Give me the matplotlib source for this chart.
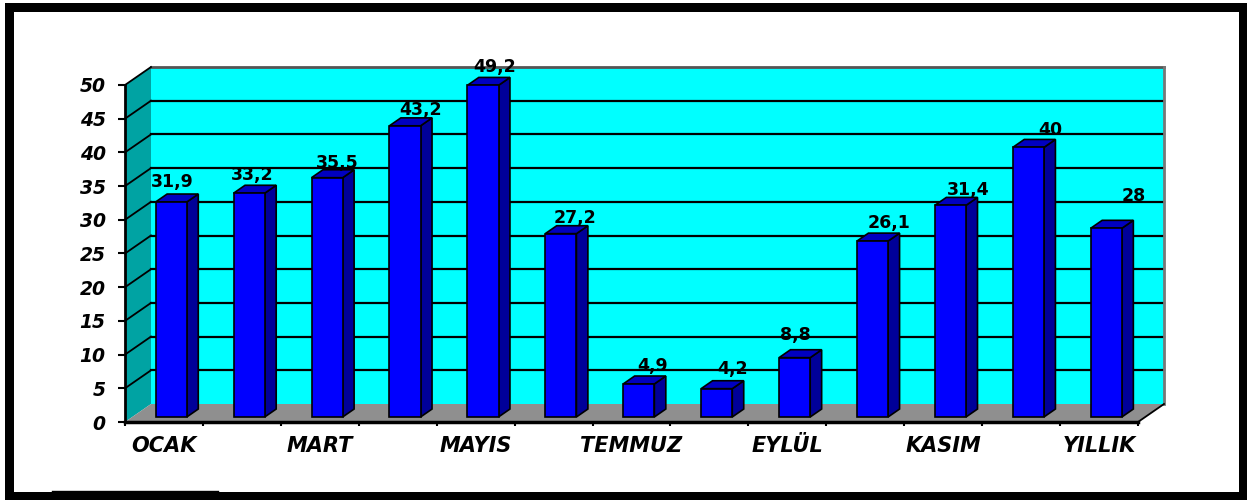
import matplotlib
matplotlib.use('Agg')
import matplotlib.pyplot as plt
from matplotlib.patches import Polygon, Rectangle
from matplotlib.lines import Line2D
from matplotlib.transforms import IdentityTransform

# veriler
aylar = ['OCAK', 'ŞUBAT', 'MART', 'NİSAN', 'MAYIS', 'HAZİRAN', 'TEMMUZ',
         'AĞUSTOS', 'EYLÜL', 'EKİM', 'KASIM', 'ARALIK', 'YILLIK']
degerler = [31.9, 33.2, 35.5, 43.2, 49.2, 27.2, 4.9, 4.2, 8.8, 26.1, 31.4, 40, 28]
y_ticks = [0, 5, 10, 15, 20, 25, 30, 35, 40, 45, 50]

# etiketlerin kaydirmalari (piksel)
etiket_dx = [-5, -3, 4, 10, 6, 8, 8, 10, -5, 11, 12, 16, 22]
etiket_dy = [7, 5, 2, 3, 5, 3, 5, 7, 10, 5, 2, 4, 19]

W, H = 1247, 500
fig = plt.figure(figsize=(W / 100, H / 100), dpi=100)
fig.patch.set_facecolor('white')
ident = IdentityTransform()

# cerceve
fig.add_artist(Rectangle((5, 0), W - 5, H - 3, transform=ident, fc='black', ec='none', zorder=-3))
fig.add_artist(Rectangle((14, 8), 1239 - 14, 480, transform=ident, fc='white', ec='none', zorder=-2))
fig.add_artist(Line2D([52, 218], [9.5, 9.5], transform=ident, color='black', lw=1, zorder=-1))

n = len(aylar)
ax = fig.add_axes([125 / W, 78 / H, 1013 / W, 337 / H])
ax.set_xlim(0, n)
ax.set_ylim(0, 50)
ax.set_autoscale_on(False)
ax.patch.set_visible(False)

DX, DY = 26, 18


def proj(x, y, d=0.0):
    px, py = ax.transData.transform((x, y))
    return (px + DX * d, py + DY * d)


def poly(pts, **kw):
    ax.add_patch(Polygon(pts, closed=True, transform=ident, clip_on=False, **kw))


def line(p, q, **kw):
    ax.add_line(Line2D([p[0], q[0]], [p[1], q[1]], transform=ident, clip_on=False, **kw))


# duvarlar
poly([proj(0, 0, 1), proj(n, 0, 1), proj(n, 50, 1), proj(0, 50, 1)], fc='#00FFFF', ec='none', zorder=1)
poly([proj(0, 0, 0), proj(0, 0, 1), proj(0, 50, 1), proj(0, 50, 0)], fc='#00A3A3', ec='none', zorder=1)
poly([proj(0, 0, 0), proj(n, 0, 0), proj(n, 0, 1), proj(0, 0, 1)], fc='#8F8F8F', ec='none', zorder=1.5)

for v in y_ticks[1:-1]:
    line(proj(0, v, 1), proj(n, v, 1), color='black', lw=1.6, zorder=2)
    line(proj(0, v, 0), proj(0, v, 1), color='black', lw=1.3, zorder=2)
line(proj(0, 50, 1), proj(n, 50, 1), color='#555555', lw=2, zorder=2)
line(proj(0, 50, 0), proj(0, 50, 1), color='black', lw=1.3, zorder=2)
line(proj(n, 0, 1), proj(n, 50, 1), color='#777777', lw=2, zorder=2)
line(proj(n, 0, 0), proj(n, 0, 1), color='black', lw=1.3, zorder=2)

# cubuklar
bw = 0.4
d0, d1 = 0.28, 0.72
for i, v in enumerate(degerler):
    x0 = i + 0.5 - bw / 2
    x1 = i + 0.5 + bw / 2
    kw = dict(ec='black', lw=1.2, zorder=3, joinstyle='miter')
    poly([proj(x1, 0, d0), proj(x1, 0, d1), proj(x1, v, d1), proj(x1, v, d0)], fc='#000099', **kw)
    poly([proj(x0, v, d0), proj(x1, v, d0), proj(x1, v, d1), proj(x0, v, d1)], fc='#0000C0', **kw)
    poly([proj(x0, 0, d0), proj(x1, 0, d0), proj(x1, v, d0), proj(x0, v, d0)], fc='#0000FF', **kw)

    tx = proj(i + 0.5, v, (d0 + d1) / 2)[0] + etiket_dx[i]
    ty = proj(i + 0.5, v, d1)[1] + etiket_dy[i]
    ax.text(tx, ty, f'{v:g}'.replace('.', ','), transform=ident, ha='center', va='baseline',
            fontsize=12.5, fontweight='bold', color='black', zorder=5)

# eksenler
for s in ['top', 'right']:
    ax.spines[s].set_visible(False)
ax.spines['left'].set_linewidth(2)
ax.spines['bottom'].set_linewidth(2.5)
ax.spines['left'].set_zorder(4)
ax.spines['bottom'].set_zorder(4)

ax.set_yticks(y_ticks)
ax.set_yticklabels([str(t) for t in y_ticks], fontsize=13.5, fontweight='bold', fontstyle='italic')
ax.tick_params(axis='y', length=5, width=1.5, pad=9)

ax.set_xticks(range(n + 1))
ax.set_xticklabels([])
ax.tick_params(axis='x', which='major', length=3, width=1.5)
ax.set_xticks([i + 0.5 for i in range(0, n, 2)], minor=True)
ax.set_xticklabels([aylar[i] for i in range(0, n, 2)], minor=True,
                   fontsize=15, fontweight='bold', fontstyle='italic')
ax.tick_params(axis='x', which='minor', length=0, pad=10)

fig.savefig('out.png', dpi=100)
